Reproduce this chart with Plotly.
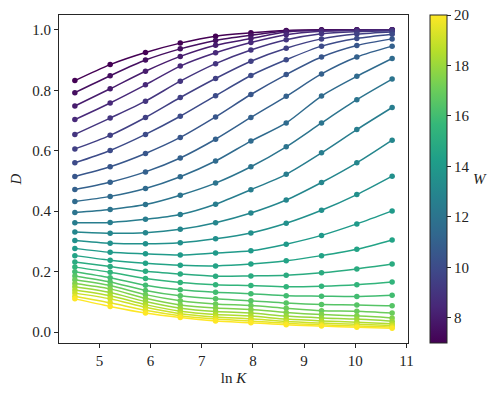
import plotly.graph_objects as go
from plotly.colors import sample_colorscale

# ln K positions (same for every curve)
ln_k = [4.52, 5.21, 5.90, 6.58, 7.27, 7.96, 8.65, 9.34, 10.03, 10.72]

# W for each curve
w_values = [7.0, 7.5, 8.0, 8.5, 9.0, 9.5, 10.0, 10.5, 11.0, 11.5, 12.0, 12.5, 13.0, 13.5,
            14.0, 14.5, 15.0, 15.5, 16.0, 16.5, 17.0, 17.5, 18.0, 18.5, 19.0, 19.5, 20.0]

# D(ln K), one row per W
d_by_w = [
    [0.832, 0.885, 0.925, 0.956, 0.979, 0.990, 0.998, 1.000, 1.000, 1.000],
    [0.792, 0.848, 0.900, 0.937, 0.965, 0.982, 0.996, 0.999, 1.000, 1.000],
    [0.748, 0.805, 0.863, 0.912, 0.949, 0.971, 0.993, 0.998, 0.999, 1.000],
    [0.703, 0.758, 0.818, 0.880, 0.924, 0.958, 0.984, 0.995, 0.998, 0.999],
    [0.654, 0.708, 0.764, 0.830, 0.888, 0.933, 0.967, 0.987, 0.994, 0.997],
    [0.606, 0.651, 0.710, 0.776, 0.839, 0.896, 0.939, 0.970, 0.986, 0.993],
    [0.560, 0.601, 0.654, 0.714, 0.782, 0.849, 0.901, 0.946, 0.971, 0.985],
    [0.515, 0.547, 0.591, 0.644, 0.712, 0.786, 0.852, 0.910, 0.948, 0.970],
    [0.472, 0.496, 0.530, 0.576, 0.638, 0.710, 0.780, 0.854, 0.910, 0.946],
    [0.432, 0.449, 0.475, 0.514, 0.566, 0.632, 0.692, 0.781, 0.846, 0.905],
    [0.396, 0.406, 0.422, 0.453, 0.493, 0.547, 0.613, 0.692, 0.769, 0.837],
    [0.362, 0.363, 0.373, 0.389, 0.423, 0.471, 0.522, 0.593, 0.670, 0.743],
    [0.331, 0.327, 0.329, 0.340, 0.362, 0.394, 0.437, 0.495, 0.560, 0.635],
    [0.303, 0.294, 0.292, 0.296, 0.309, 0.328, 0.360, 0.403, 0.455, 0.516],
    [0.277, 0.264, 0.259, 0.255, 0.262, 0.269, 0.291, 0.320, 0.358, 0.401],
    [0.253, 0.238, 0.228, 0.221, 0.219, 0.225, 0.236, 0.253, 0.274, 0.305],
    [0.232, 0.217, 0.201, 0.192, 0.185, 0.186, 0.188, 0.196, 0.209, 0.225],
    [0.215, 0.198, 0.177, 0.164, 0.157, 0.154, 0.150, 0.152, 0.157, 0.166],
    [0.200, 0.180, 0.155, 0.140, 0.132, 0.127, 0.120, 0.119, 0.118, 0.122],
    [0.186, 0.166, 0.138, 0.120, 0.110, 0.104, 0.096, 0.091, 0.090, 0.087],
    [0.173, 0.154, 0.124, 0.104, 0.093, 0.088, 0.079, 0.071, 0.069, 0.063],
    [0.161, 0.143, 0.112, 0.090, 0.080, 0.075, 0.065, 0.058, 0.054, 0.047],
    [0.150, 0.131, 0.101, 0.079, 0.068, 0.063, 0.053, 0.047, 0.043, 0.036],
    [0.139, 0.120, 0.091, 0.069, 0.058, 0.053, 0.043, 0.037, 0.033, 0.028],
    [0.129, 0.110, 0.082, 0.061, 0.050, 0.044, 0.035, 0.030, 0.026, 0.022],
    [0.119, 0.097, 0.072, 0.054, 0.043, 0.037, 0.029, 0.024, 0.020, 0.017],
    [0.110, 0.085, 0.063, 0.048, 0.037, 0.031, 0.024, 0.020, 0.016, 0.013],
]

w_min, w_max = 7, 20
cbar_ticks = [8, 10, 12, 14, 16, 18, 20]
y_ticks = [0.0, 0.2, 0.4, 0.6, 0.8, 1.0]
x_ticks = [5, 6, 7, 8, 9, 10, 11]

font_family = "Liberation Serif"
axis_color = "#262626"
text_color = "#222"

colors = sample_colorscale("Viridis", [(w - w_min) / (w_max - w_min) for w in w_values])

fig = go.Figure()

for w, d, c in zip(w_values, d_by_w, colors):
    fig.add_trace(go.Scatter(x=ln_k, y=d, mode="lines+markers",
                             line=dict(color=c, width=1.5, shape="spline", smoothing=0.8),
                             marker=dict(color=c, size=5.5),
                             name=f"W={w}", showlegend=False, hoverinfo="skip"))

# пустой трейс только ради цветовой шкалы
fig.add_trace(go.Scatter(x=[None], y=[None], mode="markers", showlegend=False,
                         marker=dict(color=[w_min, w_max], colorscale="Viridis",
                                     cmin=w_min, cmax=w_max, showscale=True,
                                     colorbar=dict(thickness=17, thicknessmode="pixels",
                                                   len=1, lenmode="fraction",
                                                   x=1.062, xanchor="left", xpad=0,
                                                   y=0.5, yanchor="middle", ypad=0,
                                                   outlinewidth=1, outlinecolor=axis_color,
                                                   ticks="outside", ticklen=4,
                                                   tickcolor=axis_color,
                                                   tickvals=cbar_ticks,
                                                   ticklabeloverflow="allow",
                                                   tickfont=dict(size=15, color=text_color)))))

fig.update_xaxes(range=[4.21, 11.03], tickvals=x_ticks, showgrid=False, zeroline=False,
                 showline=True, mirror=True, linecolor=axis_color, linewidth=1,
                 ticks="outside", ticklen=4, tickcolor=axis_color,
                 tickfont=dict(size=15, color=text_color),
                 title=dict(text="ln <i>K</i>", font=dict(size=15, color=text_color), standoff=4))
fig.update_yaxes(range=[-0.036, 1.049], tickvals=y_ticks, tickformat=".1f",
                 showgrid=False, zeroline=False,
                 showline=True, mirror=True, linecolor=axis_color, linewidth=1,
                 ticks="outside", ticklen=4, tickcolor=axis_color,
                 tickfont=dict(size=15, color=text_color),
                 title=dict(text="<i>D</i>", font=dict(size=15, color=text_color), standoff=8))

fig.add_annotation(text="<i>W</i>", xref="paper", yref="paper", x=1.232, y=0.5,
                   showarrow=False, font=dict(size=15, color=text_color, family=font_family))

# страница добавляет отступ 8px, поэтому фигура на 8px меньше окна
fig.update_layout(width=490, height=385, margin=dict(l=46, r=90, t=6, b=50),
                  plot_bgcolor="white", paper_bgcolor="white",
                  font=dict(family=font_family, size=15, color=text_color))

fig.write_html("out.html")
